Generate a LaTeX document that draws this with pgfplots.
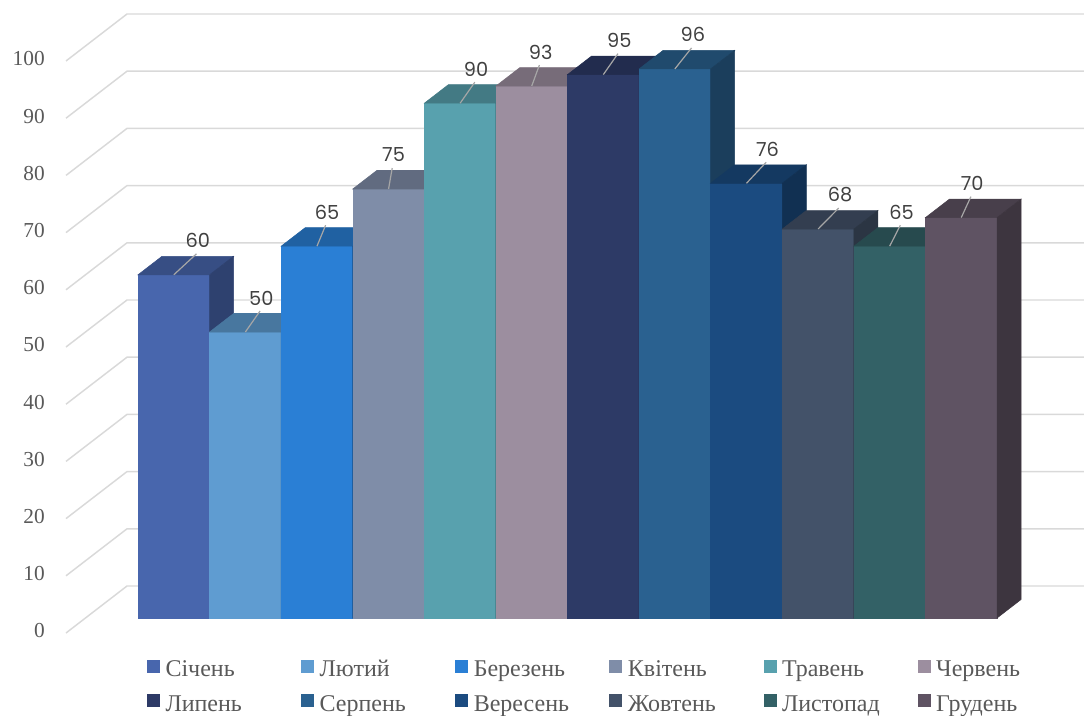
\documentclass[border=0pt]{standalone}
\usepackage{pgfplots}
\pgfplotsset{compat=1.18}
\usepackage{fontspec}
\setmainfont{Liberation Serif}
\newfontfamily\lblfont{Poppins}
\newcommand\labelfont{\lblfont\fontsize{14.5pt}{17pt}\selectfont}
\definecolor{c1}{HTML}{4866AD}
\definecolor{c2}{HTML}{5F9CD1}
\definecolor{c3}{HTML}{2A7FD5}
\definecolor{c4}{HTML}{7F8DA8}
\definecolor{c5}{HTML}{58A1AE}
\definecolor{c6}{HTML}{9C8E9F}
\definecolor{c7}{HTML}{2D3A66}
\definecolor{c8}{HTML}{2A6190}
\definecolor{c9}{HTML}{1B4B80}
\definecolor{c10}{HTML}{435269}
\definecolor{c11}{HTML}{336166}
\definecolor{c12}{HTML}{5F5363}
\definecolor{gridc}{HTML}{D9D9D9}
\definecolor{tickc}{HTML}{595959}
\definecolor{lblc}{HTML}{404040}
\definecolor{leadc}{HTML}{A6A6A6}
\newcommand\legtxt[1]{\makebox[101.7pt][l]{#1}}
\pgfplotsset{
  bar3d/.style 2 args={
    scatter, only marks, mark=*, mark size=0pt,
    mark options={draw=none,fill=none},
    visualization depends on={rawy \as \rawy},
    scatter/@pre marker code/.code={%
      \pgfmathsetmacro\hh{\rawy*4.29}%
      \pgfmathtruncatemacro\vv{round(\rawy)}%
      \fill[#1] (-26.84pt,-\hh pt) rectangle (26.84pt,0pt);
      \fill[#1!76!black] (-26.84pt,0pt) -- (26.84pt,0pt) -- (44.84pt,13.875pt) -- (-8.84pt,13.875pt) -- cycle;
      \fill[#1!64!black] (26.84pt,0pt) -- (44.84pt,13.875pt) -- (44.84pt,13.875pt-\hh pt) -- (26.84pt,-\hh pt) -- cycle;
      \draw[leadc, line width=0.9pt] (0pt,0pt) -- (#2*0.75pt-1pt,15.75pt);
      \node[font=\labelfont, text=lblc, inner sep=0pt, anchor=center] at (#2*0.75pt,25.5pt) {\vv};
    },
    scatter/@post marker code/.code={},
    legend image code/.code={\fill[#1] (0pt,-0.55pt) rectangle (9pt,8.45pt);},
  }
}
\begin{document}
\begin{tikzpicture}
\useasboundingbox (0pt,0pt) rectangle (813pt,536.25pt);
\foreach \v in {0,10,...,100} {
  \draw[gridc, line width=1.1pt] (49.5pt,61.5pt+4.29pt*\v) -- (95.25pt,96.75pt+4.29pt*\v) -- (813pt,96.75pt+4.29pt*\v);
}
\begin{axis}[
  at={(103.5pt,72.75pt)}, anchor=south west,
  x=53.69pt, y=4.29pt,
  xmin=-0.5, xmax=11.5, ymin=0, ymax=100,
  clip=false,
  axis line style={draw=none},
  xtick=\empty, ytick={0,10,...,100},
  major tick length=0pt,
  /pgf/number format/assume math mode=true,
  yticklabel style={anchor=east, inner sep=0pt, xshift=-69.75pt, yshift=-9.75pt,
    font=\fontsize{16pt}{18pt}\selectfont, text=tickc},
  legend columns=6,
  legend cell align=left,
  legend style={draw=none, fill=none, inner sep=0pt, outer sep=0pt,
    at={(0.01048,-0.0726)}, anchor=north west,
    column sep=0pt, row sep=9.5pt,
    nodes={inner sep=0pt, text=tickc, font=\fontsize{18pt}{20pt}\selectfont, text height=12pt, text depth=4pt},
    /tikz/every odd column/.append style={column sep=4.5pt}},
]
\addplot[bar3d={c1}{24}] coordinates {(0,60)};
\addlegendentry{\legtxt{Січень}}
\addplot[bar3d={c2}{16}] coordinates {(1,50)};
\addlegendentry{\legtxt{Лютий}}
\addplot[bar3d={c3}{10}] coordinates {(2,65)};
\addlegendentry{\legtxt{Березень}}
\addplot[bar3d={c4}{5}] coordinates {(3,75)};
\addlegendentry{\legtxt{Квітень}}
\addplot[bar3d={c5}{16}] coordinates {(4,90)};
\addlegendentry{\legtxt{Травень}}
\addplot[bar3d={c6}{9}] coordinates {(5,93)};
\addlegendentry{\legtxt{Червень}}
\addplot[bar3d={c7}{16}] coordinates {(6,95)};
\addlegendentry{\legtxt{Липень}}
\addplot[bar3d={c8}{18}] coordinates {(7,96)};
\addlegendentry{\legtxt{Серпень}}
\addplot[bar3d={c9}{21}] coordinates {(8,76)};
\addlegendentry{\legtxt{Вересень}}
\addplot[bar3d={c10}{22}] coordinates {(9,68)};
\addlegendentry{\legtxt{Жовтень}}
\addplot[bar3d={c11}{12}] coordinates {(10,65)};
\addlegendentry{\legtxt{Листопад}}
\addplot[bar3d={c12}{11}] coordinates {(11,70)};
\addlegendentry{\legtxt{Грудень}}
\end{axis}
\end{tikzpicture}
\end{document}
